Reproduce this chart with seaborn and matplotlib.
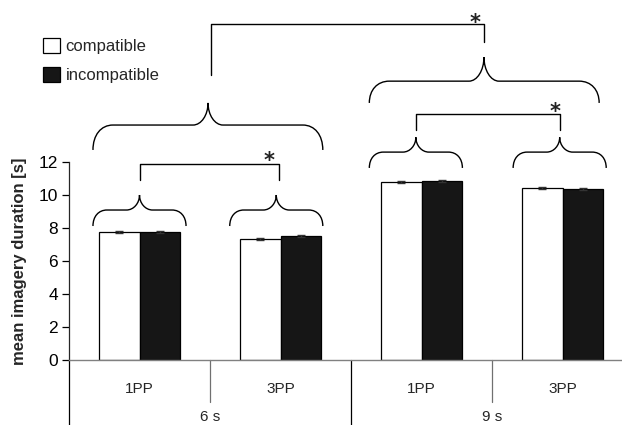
import matplotlib
matplotlib.use("Agg")
import matplotlib.pyplot as plt
from matplotlib.path import Path
from matplotlib.patches import PathPatch, Patch
import seaborn as sns
import pandas as pd

# ---------------- data ----------------
durations = ["6 s", "6 s", "9 s", "9 s"]
perspectives = ["1PP", "3PP", "1PP", "3PP"]
conditions = ["compatible", "incompatible"]
compatible = [7.74, 7.33, 10.77, 10.44]
incompatible = [7.76, 7.52, 10.85, 10.38]
err_compatible = [0.05, 0.05, 0.05, 0.05]
err_incompatible = [0.05, 0.05, 0.05, 0.05]
y_ticks = [0, 2, 4, 6, 8, 10, 12]
y_label = "mean imagery duration [s]"
star = "*"

cats = [f"{d} {p}" for d, p in zip(durations, perspectives)]
df = pd.DataFrame({
    "cat": cats * 2,
    "cond": [conditions[0]] * 4 + [conditions[1]] * 4,
    "value": compatible + incompatible,
    "err": err_compatible + err_incompatible,
})

# ---------------- style ----------------
sns.set_style("white")
plt.rcParams["font.family"] = ["Liberation Sans", "DejaVu Sans"]

W, H = 622, 425
fig = plt.figure(figsize=(W / 100, H / 100), dpi=100)
PX_X = 141.0    # px per category
PX_Y = 16.5     # px per unit
x_left = -0.5
x_right = x_left + (W - 69) / PX_X
y_top = 360 / PX_Y
ax = fig.add_axes([69 / W, (H - 360) / H, (W - 69) / W, 360 / H])

pal = {"compatible": "white", "incompatible": "#161616"}
sns.barplot(data=df, x="cat", y="value", hue="cond", order=cats,
            hue_order=conditions, palette=pal, width=0.58, saturation=1,
            edgecolor="black", linewidth=0.9, errorbar=None, ax=ax)

# error bars at the bar tops
bars = [p for p in ax.patches if p.get_height() > 0]
vals = compatible + incompatible
errs = err_compatible + err_incompatible
for p in bars:
    xc = p.get_x() + p.get_width() / 2
    h = p.get_height()
    i = vals.index(h)
    ax.errorbar(xc, h, yerr=errs[i], fmt="none", ecolor="#333333",
                elinewidth=1, capsize=3, capthick=1, zorder=5)

ax.set_xlim(x_left, x_right)
ax.set_ylim(0, y_top)
ax.set_yticks(y_ticks)
ax.set_yticklabels([str(t) for t in y_ticks], fontsize=12.5)
ax.tick_params(axis="y", length=5, width=0.9, pad=3, colors="black",
               left=True)
ax.set_xticks(range(len(cats)))
ax.set_xticklabels(perspectives, fontsize=11)
ax.tick_params(axis="x", length=0, pad=15.5)
ax.set_xlabel("")
ax.set_ylabel(y_label, fontsize=12, fontweight="bold")
ax.yaxis.set_label_coords(-0.076, 6 / y_top)

for s in ["top", "right"]:
    ax.spines[s].set_visible(False)
ax.spines["left"].set_bounds(0, 12)
ax.spines["left"].set_linewidth(0.9)
ax.spines["bottom"].set_color("#808080")
ax.spines["bottom"].set_linewidth(1.0)

y_bottom = -(H - 360) / PX_Y
# axis continuation and separators below the baseline
ax.plot([x_left, x_left], [0, y_bottom], color="black", lw=0.9, clip_on=False)
ax.plot([1.5, 1.5], [0, y_bottom], color="black", lw=0.9, clip_on=False)
for xs in (0.5, 2.5):
    ax.plot([xs, xs], [0, -2.55], color="#707070", lw=0.9, clip_on=False)
for xs, lab in ((0.5, "6 s"), (2.5, "9 s")):
    ax.text(xs, -3.45, lab, ha="center", va="center", fontsize=11,
            clip_on=False)

# ---------------- braces and brackets ----------------
def brace(x0, x1, xm, yb, yh, yt, re_px, rm_px):
    re = re_px / PX_X
    rm = rm_px / PX_X
    verts = [
        (x0, yb),
        (x0, yb + 0.6 * (yh - yb)), (x0 + 0.4 * re, yh), (x0 + re, yh),
        (xm - rm, yh),
        (xm - 0.45 * rm, yh), (xm, yh + 0.45 * (yt - yh)), (xm, yt),
        (xm, yh + 0.45 * (yt - yh)), (xm + 0.45 * rm, yh), (xm + rm, yh),
        (x1 - re, yh),
        (x1 - 0.4 * re, yh), (x1, yb + 0.6 * (yh - yb)), (x1, yb),
    ]
    codes = [Path.MOVETO,
             Path.CURVE4, Path.CURVE4, Path.CURVE4,
             Path.LINETO,
             Path.CURVE4, Path.CURVE4, Path.CURVE4,
             Path.CURVE4, Path.CURVE4, Path.CURVE4,
             Path.LINETO,
             Path.CURVE4, Path.CURVE4, Path.CURVE4]
    ax.add_patch(PathPatch(Path(verts, codes), fill=False, lw=1.0,
                           edgecolor="black", clip_on=False))


def bracket(xa, xb, ya, yb, ytop):
    ax.plot([xa, xa, xb, xb], [ya, ytop, ytop, yb], color="black", lw=1.0,
            clip_on=False)


def asterisk(x, y):
    ax.text(x, y, star, ha="center", va="center", fontsize=15,
            family="DejaVu Sans", fontweight="bold", color="#222222",
            clip_on=False)


# small braces over each pair
small_centers = [0.0, 0.97, 1.96, 2.98]
small_levels = [(8.12, 9.09, 10.0), (8.12, 9.09, 10.0),
                (11.64, 12.6, 13.5), (11.64, 12.6, 13.5)]
for c, (yb, yh, yt) in zip(small_centers, small_levels):
    brace(c - 0.33, c + 0.33, c, yb, yh, yt, 14, 13)

bracket(0.0, 0.99, 10.9, 10.9, 11.88)
asterisk(0.92, 12.05)
bracket(1.96, 2.98, 13.94, 13.94, 14.9)
asterisk(2.95, 15.05)

# big braces over each duration
brace(-0.33, 1.30, 0.486, 12.73, 14.24, 15.58, 20, 15)
brace(1.63, 3.26, 2.443, 15.58, 16.9, 18.36, 20, 15)
bracket(0.507, 2.443, 17.27, 19.27, 20.36)
asterisk(2.38, 20.42)

# ---------------- legend ----------------
old = ax.get_legend()
if old is not None:
    old.remove()
handles = [Patch(facecolor=pal[c], edgecolor="black", linewidth=0.9)
           for c in conditions]
fig.legend(handles, conditions, loc="upper left",
           bbox_to_anchor=(43 / W, 1 - 38 / H), bbox_transform=fig.transFigure,
           frameon=False, fontsize=12, handlelength=1.0, handleheight=1.0,
           handletextpad=0.35, labelspacing=0.78, borderpad=0, borderaxespad=0)

fig.savefig("out.png", dpi=100)
